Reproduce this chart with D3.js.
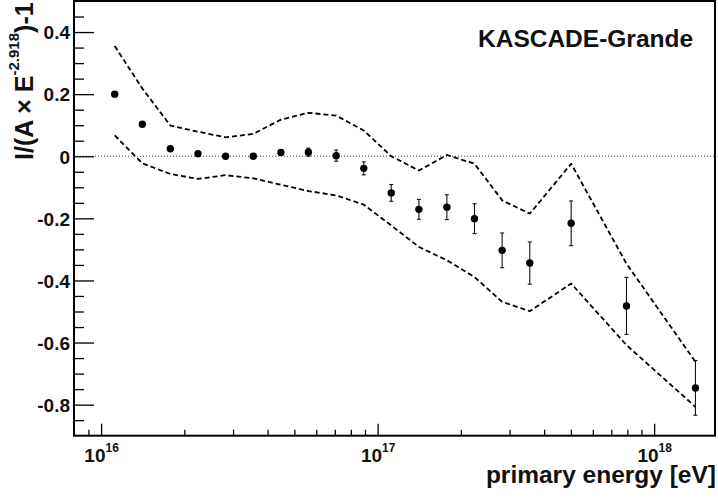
<!DOCTYPE html>
<html>
<head>
  <meta charset="utf-8">
  <script src="https://d3js.org/d3.v7.min.js"></script>
  <style>
    body { margin: 0px; background: white; }
    svg text { font-family: "Liberation Sans", Arial, sans-serif; font-weight: bold; fill: #111; }
    .domain { display: none; }
    .tick line { stroke: #000; stroke-width: 1.3; }
  </style>
</head>
<body>
  <svg width="718" height="497"></svg>
  <script>
    // energy bin centres [eV]
    const energy = [1.12e16, 1.41e16, 1.78e16, 2.24e16, 2.82e16, 3.55e16, 4.47e16, 5.62e16, 7.08e16, 8.91e16,
      1.12e17, 1.41e17, 1.78e17, 2.24e17, 2.82e17, 3.55e17, 5.01e17, 7.94e17, 1.41e18];
    // I/(A x E^-2.918) - 1
    const ratio = [0.200, 0.103, 0.024, 0.008, 0.000, 0.000, 0.012, 0.013, 0.002, -0.039,
      -0.118, -0.171, -0.164, -0.201, -0.303, -0.344, -0.216, -0.482, -0.746];
    const statErr = [0.004, 0.004, 0.005, 0.005, 0.006, 0.007, 0.009, 0.013, 0.018, 0.021,
      0.027, 0.032, 0.040, 0.048, 0.056, 0.068, 0.072, 0.092, 0.088];
    // systematic band
    const sysUpper = [0.355, 0.218, 0.099, 0.079, 0.061, 0.072, 0.118, 0.140, 0.131, 0.083,
      0.000, -0.046, 0.004, -0.024, -0.142, -0.185, -0.024, -0.346, -0.662];
    const sysLower = [0.067, -0.023, -0.057, -0.073, -0.061, -0.071, -0.092, -0.112, -0.126, -0.156,
      -0.223, -0.292, -0.335, -0.389, -0.469, -0.499, -0.410, -0.608, -0.807];

    const xMajor = [1e16, 1e17, 1e18];
    const xExp = ['16', '17', '18'];
    const xMinor = [9e15, 2e16, 3e16, 4e16, 5e16, 6e16, 7e16, 8e16, 9e16,
      2e17, 3e17, 4e17, 5e17, 6e17, 7e17, 8e17, 9e17, 2e18];
    const yMajor = [-0.8, -0.6, -0.4, -0.2, 0, 0.2, 0.4];
    const yMinor = [-0.85, -0.75, -0.7, -0.65, -0.55, -0.5, -0.45, -0.35, -0.3, -0.25, -0.15, -0.1, -0.05,
      0.05, 0.1, 0.15, 0.25, 0.3, 0.35, 0.45];

    const frameL = 74, frameR = 715, frameT = 1, frameB = 435.7;

    const svg = d3.select('svg');
    const x = d3.scaleLog().domain([Math.pow(10, 15.902), Math.pow(10, 18.22)]).range([frameL, frameR]);
    const y = d3.scaleLinear().domain([-0.9, 0.5]).range([frameB, frameT]);

    svg.append('rect').attr('width', 718).attr('height', 497).attr('fill', 'white');

    // zero line
    svg.append('line')
      .attr('x1', frameL).attr('x2', frameR)
      .attr('y1', y(0)).attr('y2', y(0))
      .attr('stroke', '#444').attr('stroke-width', 1).attr('stroke-dasharray', '1,2');

    // axes
    const xAxisG = svg.append('g').attr('transform', `translate(0,${frameB})`);
    xAxisG.call(d3.axisBottom(x).tickValues(xMinor).tickSize(-6).tickFormat(() => ''));
    const xMajG = svg.append('g').attr('transform', `translate(0,${frameB})`);
    xMajG.call(d3.axisBottom(x).tickValues(xMajor).tickSize(-12).tickFormat(() => '10'));
    xMajG.selectAll('.tick text')
      .attr('y', 26).attr('dy', 0)
      .style('font-size', '19px')
      .each(function (d, i) {
        d3.select(this).append('tspan')
          .attr('dy', -10)
          .style('font-size', '12px')
          .text(xExp[i]);
      });

    const yAxisG = svg.append('g').attr('transform', `translate(${frameL},0)`);
    yAxisG.call(d3.axisLeft(y).tickValues(yMinor).tickSize(-10).tickFormat(() => ''));
    const yMajG = svg.append('g').attr('transform', `translate(${frameL},0)`);
    yMajG.call(d3.axisLeft(y).tickValues(yMajor).tickSize(-20).tickPadding(4)
      .tickFormat(d => String(Math.round(d * 10) / 10)));
    yMajG.selectAll('.tick text').style('font-size', '19px').attr('dy', '0.36em');

    // systematic band
    const band = vals => d3.line()
      .x((d, i) => x(energy[i]))
      .y(d => y(d))(vals);
    [sysUpper, sysLower].forEach(vals => {
      svg.append('path')
        .attr('d', band(vals))
        .attr('fill', 'none')
        .attr('stroke', '#000')
        .attr('stroke-width', 1.8)
        .attr('stroke-linejoin', 'round')
        .attr('stroke-dasharray', '5,3');
    });

    // error bars
    const pts = energy.map((e, i) => ({ e: e, v: ratio[i], err: statErr[i] }));
    const eb = svg.append('g').attr('stroke', '#111').attr('stroke-width', 1.1);
    pts.forEach(d => {
      const cx = x(d.e), y1 = y(d.v + d.err), y2 = y(d.v - d.err);
      eb.append('line').attr('x1', cx).attr('x2', cx).attr('y1', y1).attr('y2', y2);
      eb.append('line').attr('x1', cx - 2).attr('x2', cx + 2).attr('y1', y1).attr('y2', y1);
      eb.append('line').attr('x1', cx - 2).attr('x2', cx + 2).attr('y1', y2).attr('y2', y2);
    });

    svg.append('g').selectAll('circle').data(pts)
      .enter().append('circle')
      .attr('cx', d => x(d.e))
      .attr('cy', d => y(d.v))
      .attr('r', 3.7)
      .attr('fill', '#000');

    // frame
    svg.append('rect')
      .attr('x', frameL).attr('y', frameT)
      .attr('width', frameR - frameL).attr('height', frameB - frameT)
      .attr('fill', 'none').attr('stroke', '#000').attr('stroke-width', 2);

    // texts
    svg.append('text')
      .attr('x', 478).attr('y', 46.5)
      .style('font-size', '24.5px')
      .text('KASCADE-Grande');

    svg.append('text')
      .attr('x', 716).attr('y', 483)
      .attr('text-anchor', 'end')
      .style('font-size', '24.5px')
      .text('primary energy [eV]');

    const yTitle = svg.append('text')
      .attr('transform', 'translate(33,160) rotate(-90)')
      .style('font-size', '25px');
    yTitle.append('tspan').text('I/(A \u00d7 E');
    yTitle.append('tspan').attr('dy', -14).style('font-size', '15px').text('-2.918');
    yTitle.append('tspan').attr('dy', 14).text(')-1');
  </script>
</body>
</html>
